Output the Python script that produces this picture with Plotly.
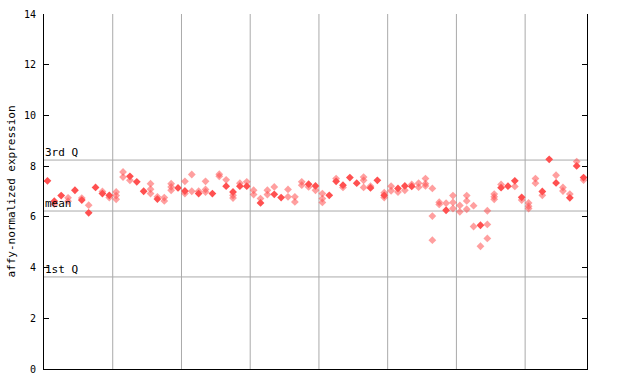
import plotly.graph_objects as go

# ---- data ----
y_ticks = [0, 2, 4, 6, 8, 10, 12, 14]
q1_value = 3.63
mean_value = 6.23
q3_value = 8.24
n_samples = 79
group_bounds = [9.5, 19.5, 29.5, 39.5, 49.5, 59.5, 69.5]

solid_idx = [0, 1, 2, 4, 5, 6, 7, 8, 9, 12, 13, 14, 16, 19, 20, 22, 24, 26, 27, 28,
             29, 31, 33, 34, 38, 39, 41, 42, 43, 44, 45, 47, 48, 49, 51, 52, 53, 58,
             63, 66, 67, 68, 69, 72, 73, 74, 76, 77, 78]
solid_val = [7.42, 6.62, 6.84, 7.05, 6.66, 6.16, 7.16, 6.92, 6.85, 7.60, 7.38, 7.01,
             6.70, 7.14, 7.02, 6.92, 6.92, 7.21, 6.98, 7.21, 7.21, 6.55, 6.89, 6.76,
             7.29, 7.22, 6.85, 7.40, 7.25, 7.55, 7.33, 7.14, 7.44, 6.85, 7.12, 7.22,
             7.20, 6.26, 5.67, 7.15, 7.21, 7.42, 6.77, 7.00, 8.27, 7.34, 6.75, 8.01, 7.55]

hatch_idx = [1, 3, 3, 5, 6, 8, 9, 10, 10, 10, 11, 11, 12, 15, 15, 15, 16, 17, 17,
             18, 18, 18, 20, 20, 21, 21, 22, 23, 23, 23, 25, 25, 26, 27, 27, 28, 29,
             30, 30, 31, 32, 32, 33, 35, 35, 36, 36, 37, 37, 38, 39, 40, 40, 40, 42,
             43, 46, 46, 46, 47, 49, 49, 50, 50, 51, 52, 53, 54, 54, 55, 55, 55, 56,
             56, 56, 57, 57, 58, 59, 59, 59, 60, 60, 61, 61, 61, 62, 62, 63, 64, 64,
             64, 65, 65, 65, 66, 68, 69, 70, 70, 70, 71, 71, 72, 74, 75, 75, 76, 77, 78]
hatch_val = [6.50, 6.75, 6.62, 6.74, 6.46, 7.00, 6.76, 6.98, 6.84, 6.69, 7.77, 7.57,
             7.44, 7.31, 7.09, 6.92, 6.79, 6.76, 6.63, 7.31, 7.18, 7.05, 7.40, 6.92,
             7.67, 7.01, 7.01, 7.40, 7.08, 6.98, 7.68, 7.60, 7.46, 6.85, 6.74, 7.33,
             7.38, 7.05, 6.88, 6.72, 7.05, 6.88, 7.18, 7.08, 6.79, 6.79, 6.59, 7.38,
             7.25, 7.18, 7.05, 6.92, 6.72, 6.57, 7.51, 7.16, 7.57, 7.44, 7.16, 7.21,
             6.95, 6.76, 7.21, 7.03, 6.98, 7.05, 7.28, 7.33, 7.17, 7.51, 7.31, 7.22,
             7.12, 6.03, 5.08, 6.58, 6.49, 6.54, 6.84, 6.57, 6.33, 6.45, 6.20, 6.84,
             6.63, 6.30, 6.44, 5.62, 4.84, 6.24, 5.70, 5.15, 6.90, 6.79, 6.69, 7.28,
             7.20, 6.66, 6.55, 6.42, 6.33, 7.51, 7.33, 6.85, 7.64, 7.16, 7.02, 6.90,
             8.18, 7.45]

RED = "#ff5050"
PINK = "rgba(255,80,80,0.55)"
MONO = "DejaVu Sans Mono"

fig = go.Figure()
fig.add_trace(go.Scatter(x=hatch_idx, y=hatch_val, mode="markers",
                         marker=dict(symbol="diamond", size=6, color=PINK,
                                     line=dict(width=0)),
                         hoverinfo="y", showlegend=False))
fig.add_trace(go.Scatter(x=solid_idx, y=solid_val, mode="markers",
                         marker=dict(symbol="diamond", size=6, color=RED,
                                     line=dict(width=0)),
                         hoverinfo="y", showlegend=False))

# group separators
for b in group_bounds:
    fig.add_shape(type="line", xref="x", yref="paper", x0=b, x1=b, y0=0, y1=1,
                  line=dict(color="#aaaaaa", width=1), layer="below")
# quartile / mean lines
for v in [q1_value, mean_value, q3_value]:
    fig.add_shape(type="line", xref="paper", yref="y", x0=0, x1=1, y0=v, y1=v,
                  line=dict(color="#aaaaaa", width=1), layer="below")

for label, v in [("3rd Q", q3_value), ("mean", mean_value), ("1st Q", q1_value)]:
    fig.add_annotation(x=0, xref="paper", y=v, yref="y", text=label, showarrow=False,
                       xanchor="left", yanchor="bottom", yshift=-1, xshift=-1,
                       font=dict(family=MONO, size=11, color="black"))

fig.update_layout(
    width=640, height=384,
    margin=dict(l=44, r=53, t=14, b=15, autoexpand=False),
    paper_bgcolor="white", plot_bgcolor="white",
    xaxis=dict(range=[-0.5, n_samples - 0.5], showgrid=False, zeroline=False,
               showticklabels=False, ticks="", showline=True, linecolor="black",
               linewidth=1, mirror=False, automargin=False),
    yaxis=dict(range=[0, 14], tickvals=y_ticks, showgrid=False, zeroline=False,
               ticks="inside", ticklen=5, tickcolor="black", showline=True,
               linecolor="black", linewidth=1, mirror="ticks", automargin=False,
               ticklabelstandoff=5,
               tickfont=dict(family=MONO, size=10, color="black"),
               title=dict(text="affy-normalized expression",
                          font=dict(family=MONO, size=11, color="black"),
                          standoff=6)),
)

fig.write_html("out.html", config={"displayModeBar": False})

# remove the default page margin so the figure sits at the window's origin
with open("out.html", "r", encoding="utf-8") as f:
    html = f.read()
html = html.replace("<head>", "<head><style>html,body{margin:0;padding:0;overflow:hidden}</style>", 1)
with open("out.html", "w", encoding="utf-8") as f:
    f.write(html)
